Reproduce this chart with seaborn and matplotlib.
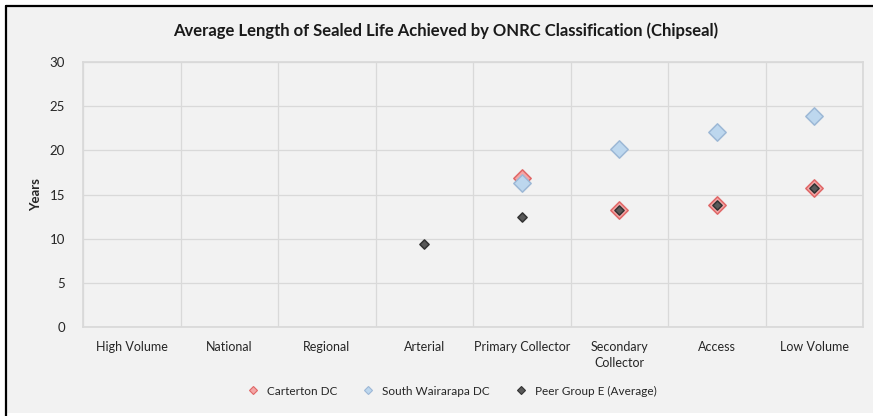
import matplotlib.pyplot as plt
import matplotlib.patches as mpatches
from matplotlib.lines import Line2D
import numpy as np
import pandas as pd
import seaborn as sns

categories = ["High Volume", "National", "Regional", "Arterial", "Primary Collector",
              "Secondary\nCollector", "Access", "Low Volume"]
carterton = [np.nan, np.nan, np.nan, np.nan, 16.9, 13.2, 13.8, 15.7]
south_wairarapa = [np.nan, np.nan, np.nan, np.nan, 16.3, 20.1, 22.1, 23.9]
peer_group = [np.nan, np.nan, np.nan, 9.4, 12.5, 13.2, 13.8, 15.7]

series = [
    ("Carterton DC", carterton, "#f4a6a6", "#e06767", 78),
    ("South Wairarapa DC", south_wairarapa, "#bdd7ee", "#9db8d6", 78),
    ("Peer Group E (Average)", peer_group, "#595959", "#333333", 22),
]

sns.set_theme(style="white")
plt.rcParams["font.family"] = ["Lato", "DejaVu Sans"]

fig = plt.figure(figsize=(8.73, 4.16), dpi=100, facecolor="white")
# chart frame
fig.patches.append(mpatches.Rectangle((6 / 873, 3 / 416), 1.0, 407 / 416, transform=fig.transFigure,
                                      facecolor="#f2f2f2", edgecolor="none", zorder=-2))
fig.lines.append(Line2D([6 / 873, 6 / 873], [0, 410 / 416], transform=fig.transFigure,
                        color="black", lw=1.6))
fig.lines.append(Line2D([6 / 873, 1], [410 / 416, 410 / 416], transform=fig.transFigure,
                        color="black", lw=1.6))

ax = fig.add_axes([83 / 873, 89 / 416, 780 / 873, 265 / 416])
ax.set_facecolor("#f2f2f2")

x = np.arange(len(categories))
for name, vals, fc, ec, s in series:
    df = pd.DataFrame({"x": x, "y": vals}).dropna()
    sns.scatterplot(data=df, x="x", y="y", ax=ax, marker="D", s=s, color=fc,
                    edgecolor=ec, linewidth=1.1, zorder=3, legend=False)

ax.set_xlim(-0.5, len(categories) - 0.5)
ax.set_ylim(0, 30)
ax.set_yticks(range(0, 31, 5))
ax.set_xticks(x)
ax.set_xticklabels(categories, fontsize=9, color="#262626", linespacing=1.45)
ax.set_xticks(np.arange(-0.5, len(categories), 1), minor=True)
ax.tick_params(axis="y", labelsize=9.5, colors="#262626", length=0, pad=13)
ax.tick_params(axis="x", which="both", length=0, pad=10)
ax.grid(axis="y", color="#d9d9d9", lw=0.9)
ax.grid(axis="x", which="minor", color="#d9d9d9", lw=0.9)
ax.grid(axis="x", which="major", visible=False)
for sp in ax.spines.values():
    sp.set_color("#d9d9d9")
ax.set_xlabel("")
ax.set_ylabel("Years", fontsize=9.5, fontweight="bold", color="#262626", labelpad=5)

fig.text(446 / 873, 1 - 31 / 416,
         "Average Length of Sealed Life Achieved by ONRC Classification (Chipseal)",
         fontsize=12, fontweight="bold", color="#1a1a1a", ha="center", va="center")

handles = [Line2D([], [], marker="D", ls="none", markersize=4.5, markerfacecolor=fc,
                  markeredgecolor=ec, markeredgewidth=0.8, label=name)
           for name, vals, fc, ec, s in series]
fig.legend(handles=handles, loc="center", bbox_to_anchor=(449 / 873, 1 - 391 / 416), ncol=3,
           frameon=False, fontsize=8.5, handletextpad=0.2, columnspacing=1.6, labelcolor="#262626")

fig.savefig("out.png", dpi=100, facecolor=fig.get_facecolor())
